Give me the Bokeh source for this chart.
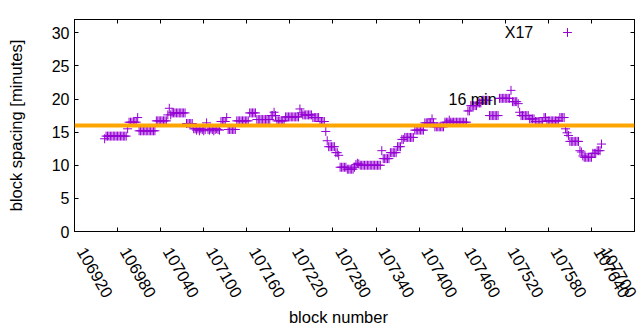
from bokeh.plotting import figure
from bokeh.models import Range1d, LinearAxis, FixedTicker, Span, Label, Legend, LegendItem
from bokeh.core.properties import value
from bokeh.embed import file_html
from bokeh.resources import INLINE
import math

# ---- data ----
first_block = 106962
block_step = 2
spacing = [
    14.0, 14.4, 14.4, 14.4, 14.4, 14.4, 14.4, 14.4, 14.4, 14.4, 14.4, 14.4, 14.4, 14.4, 14.4, 14.4,
    15.5,
    16.5, 16.5, 16.5, 16.5, 16.5, 16.5, 17.2,
    15.2, 15.2, 15.2, 15.2, 15.2, 15.2, 15.2, 15.2, 15.2, 15.2, 15.2, 15.2,
    16.7, 16.7, 16.7, 16.7, 16.7, 16.7, 16.7, 16.7,
    17.6, 18.6, 17.6,
    17.9, 17.9, 17.9, 17.9, 17.9, 17.9, 17.9, 17.9, 17.9, 17.9,
    16.3, 16.3, 16.3, 16.3, 16.3,
    15.5, 15.5, 15.3, 15.5, 15.2, 15.5, 15.4, 15.2, 15.4, 16.4, 15.4, 15.3, 15.5, 15.4, 15.2, 15.4, 15.5, 15.4, 15.3,
    16.6, 16.6, 16.6, 16.6, 17.2,
    15.4, 15.4, 15.4, 15.4, 15.4, 15.4,
    16.7, 16.7, 16.7, 16.7, 16.7, 16.7, 16.7, 16.7, 16.7,
    17.9, 17.9, 17.9, 17.9, 17.9,
    16.9, 16.9, 16.9, 16.9, 16.9, 16.9, 16.9, 16.9, 16.9, 16.9,
    17.5, 17.5, 18.0, 17.5,
    16.7, 16.7, 16.7, 16.7, 16.7, 16.7,
    17.3, 17.3, 17.3, 17.3, 17.3, 17.3, 17.3, 17.3, 17.3, 17.3,
    18.5, 17.9,
    17.6, 17.6, 17.6, 17.6, 17.6, 17.6, 17.6,
    17.2, 17.2, 17.2, 17.2, 17.2,
    16.6, 16.6, 16.6, 16.6,
    15.1, 13.7,
    12.8, 12.8, 12.8, 12.8, 12.8,
    11.9, 11.9, 11.5,
    9.7, 9.7, 9.7, 9.7, 9.7,
    9.4, 9.4, 9.4, 9.4, 9.4,
    9.7, 10.1, 10.3, 10.2, 10.0,
    10.0, 10.0, 10.0, 10.0, 10.0, 10.0, 10.0, 10.0, 10.0, 10.0, 10.0, 10.0, 10.0, 10.0,
    12.2,
    11.0, 11.0, 11.0, 11.0, 11.0,
    11.9, 11.9, 11.9, 11.9, 11.9,
    12.8, 12.8, 12.8,
    13.9, 13.9,
    14.2, 14.2, 14.2, 14.2, 14.2, 14.2, 14.2,
    15.3, 15.3, 15.3, 15.3, 15.3, 15.3, 15.3,
    16.4, 16.4, 16.4, 16.4, 16.4, 17.0, 16.4,
    15.8, 15.8, 15.8, 15.8, 15.8, 15.8, 15.8,
    16.5, 16.5, 16.5, 16.8, 16.5, 16.5, 16.5, 16.5, 16.5, 16.5, 16.5, 16.5, 16.5, 16.5, 16.5, 16.5,
    18.2, 18.2,
    19.0, 19.0, 19.0, 19.0, 19.0,
    19.4, 19.4, 19.4,
    19.8, 19.8, 19.8, 19.8, 19.8,
    17.5, 17.5, 17.5, 17.5, 17.5, 17.5, 17.5,
    20.1, 20.1, 20.1, 20.1, 20.1, 20.1, 20.1, 20.1,
    21.3,
    19.6, 19.6, 19.6, 19.6,
    19.3, 18.0,
    17.5, 17.5, 17.5, 17.5, 17.5, 17.5,
    17.0, 17.0, 17.0, 17.0,
    16.6, 16.6, 16.6, 16.6, 16.6, 16.6,
    17.2, 17.2,
    16.7, 16.7, 16.7, 16.7, 16.7, 16.7, 16.7, 16.7, 16.7,
    17.2, 17.2, 17.2, 17.2,
    15.5, 14.9, 14.5,
    13.6, 13.6, 13.6, 13.6, 13.6, 13.6, 13.6,
    12.2, 12.0, 11.4,
    11.2, 11.2, 11.2, 11.2, 11.2, 11.2,
    11.8, 11.8, 11.8,
    12.2, 12.2, 12.2,
    13.2,
]
blocks = [first_block + block_step * i for i in range(len(spacing))]

threshold = 16
threshold_label = "16 min"
series_name = "X17"
x_ticks = [106920, 106980, 107040, 107100, 107160, 107220, 107280,
           107340, 107400, 107460, 107520, 107580, 107640, 107700]
x_tick_labels = ["106920", "106980", "107040", "107100", "107160", "107220", "107280",
                 "107340", "107400", "107460", "107520", "107580", "107640", "107700"]
y_ticks = [0, 5, 10, 15, 20, 25, 30]
y_tick_labels = ["0", "5", "10", "15", "20", "25", "30"]

FONT = "Liberation Sans"
PURPLE = "#9400D3"
ORANGE = "#FFA500"
PAD = "\u00a0\u00a0\u00a0"   # shifts the rotated labels along their direction, as in the original
NBSP = "\u00a0"

p = figure(width=640, height=330, output_backend="svg", toolbar_location=None,
           x_range=Range1d(106920, 107700), y_range=Range1d(0, 32),
           min_border_left=74, min_border_right=6, min_border_top=19, min_border_bottom=99,
           x_axis_label="block number" + NBSP * 7, y_axis_label="block spacing [minutes]")
p.grid.visible = False
p.outline_line_color = "black"
p.outline_line_width = 1
p.background_fill_color = "white"
p.border_fill_color = "white"


def style_axis(ax, ticks, labels, size="16px"):
    ax.ticker = FixedTicker(ticks=ticks)
    ax.major_tick_in = 4
    ax.major_tick_out = 0
    ax.minor_tick_line_color = None
    ax.axis_line_color = "black"
    ax.major_tick_line_color = "black"
    ax.major_label_text_font = FONT
    ax.major_label_text_color = "black"
    if labels is None:
        ax.major_label_overrides = {t: "" for t in ticks}
        ax.major_label_text_font_size = "1px"
        ax.major_label_standoff = 0
        ax.axis_label_standoff = 0
    else:
        ax.major_label_overrides = {t: l for t, l in zip(ticks, labels)}
        ax.major_label_text_font_size = size
    ax.axis_label_text_font = FONT
    ax.axis_label_text_font_size = "16.5px"
    ax.axis_label_text_font_style = "normal"
    ax.axis_label_text_color = "black"


xa = p.xaxis[0]
style_axis(xa, x_ticks, [PAD + s for s in x_tick_labels], size="16.5px")
xa.major_label_orientation = -math.pi / 3
xa.major_label_standoff = 5
xa.axis_label_standoff = 0

ya = p.yaxis[0]
style_axis(ya, y_ticks, y_tick_labels)
ya.major_label_standoff = 5
ya.axis_label_standoff = 24

top = LinearAxis()
style_axis(top, x_ticks, None)
p.add_layout(top, "above")
right = LinearAxis()
style_axis(right, y_ticks, None)
p.add_layout(right, "right")

r = p.scatter(blocks, spacing, marker="cross", size=9, line_color=PURPLE, line_width=1)

p.add_layout(Span(location=threshold, dimension="width", line_color=ORANGE, line_width=4))

p.add_layout(Label(x=107441, y=20, text=threshold_label, text_align="left", text_baseline="middle",
                   text_font=FONT, text_font_size="16px", text_color="black"))
p.add_layout(Label(x=107559, y=30, text=series_name, text_align="right", text_baseline="middle",
                   text_font=FONT, text_font_size="16px", text_color="black"))

legend = Legend(items=[LegendItem(label=value(" "), renderers=[r])], location=(482, 188),
                padding=0, spacing=0, margin=0, glyph_width=22, glyph_height=22,
                label_standoff=0, label_width=0, label_text_font_size="1px",
                border_line_alpha=0, background_fill_alpha=0)
p.add_layout(legend)

open("out.html", "w").write(file_html(p, INLINE))
